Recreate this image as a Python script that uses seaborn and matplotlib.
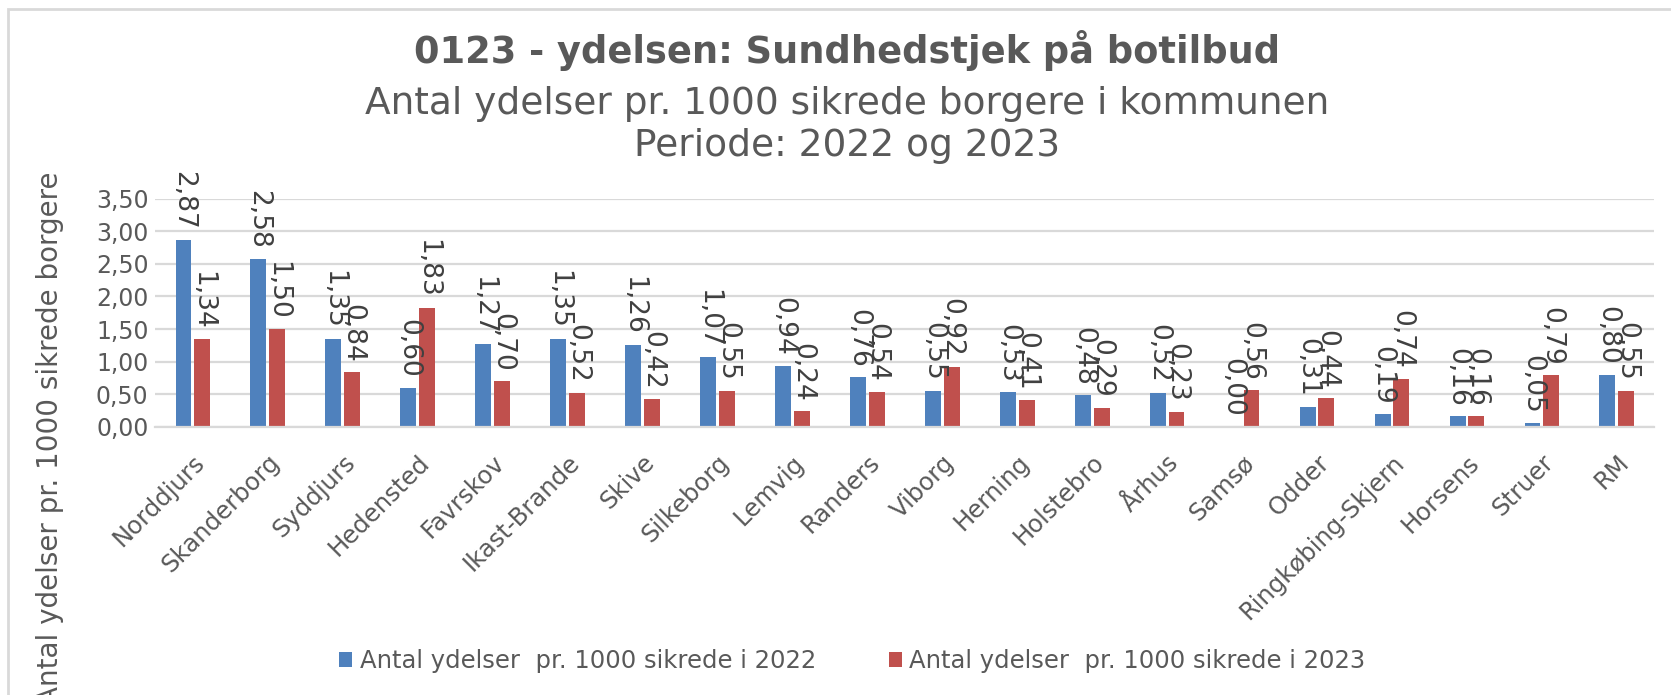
import matplotlib
matplotlib.use("Agg")
import matplotlib.pyplot as plt
import seaborn as sns
import pandas as pd
from matplotlib.patches import Rectangle

kommuner = ["Norddjurs", "Skanderborg", "Syddjurs", "Hedensted", "Favrskov", "Ikast-Brande",
            "Skive", "Silkeborg", "Lemvig", "Randers", "Viborg", "Herning", "Holstebro",
            "Århus", "Samsø", "Odder", "Ringkøbing-Skjern", "Horsens", "Struer", "RM"]
v2022 = [2.87, 2.58, 1.35, 0.60, 1.27, 1.35, 1.26, 1.07, 0.94, 0.76, 0.55, 0.53, 0.48,
         0.52, 0.00, 0.31, 0.19, 0.16, 0.05, 0.80]
v2023 = [1.34, 1.50, 0.84, 1.83, 0.70, 0.52, 0.42, 0.55, 0.24, 0.54, 0.92, 0.41, 0.29,
         0.23, 0.56, 0.44, 0.74, 0.16, 0.79, 0.55]
series = ["Antal ydelser  pr. 1000 sikrede i 2022", "Antal ydelser  pr. 1000 sikrede i 2023"]
yticks = [0.0, 0.5, 1.0, 1.5, 2.0, 2.5, 3.0, 3.5]

title1 = "0123 - ydelsen: Sundhedstjek på botilbud"
title2 = "Antal ydelser pr. 1000 sikrede borgere i kommunen"
title3 = "Periode: 2022 og 2023"
ylabel = "Antal ydelser pr. 1000 sikrede borgere"

df = pd.DataFrame({
    "kommune": kommuner * 2,
    "value": v2022 + v2023,
    "serie": [series[0]] * len(kommuner) + [series[1]] * len(kommuner),
})

sns.set_theme(style="white")
plt.rcParams["font.family"] = ["DejaVu Sans"]
TXT = "#595959"

fig = plt.figure(figsize=(16.71, 6.95), dpi=100)
ax = fig.add_axes([0.093, 0.386, 0.897, 0.328])

sns.barplot(data=df, x="kommune", y="value", hue="serie", order=kommuner,
            hue_order=series, palette=["#4F81BD", "#C0504D"], width=0.5, gap=0.15,
            ax=ax, legend=True, saturation=1, edgecolor="none")

ax.set_ylim(0, 3.5)
ax.set_yticks(yticks)
ax.set_yticklabels([f"{t:.2f}".replace(".", ",") for t in yticks], fontsize=17, color=TXT)
ax.set_xlim(-0.5, len(kommuner) - 0.5)
ax.grid(axis="y", color="#D9D9D9", linewidth=1.6)
ax.set_axisbelow(True)
for s in ["top", "right", "left"]:
    ax.spines[s].set_visible(False)
ax.spines["bottom"].set_color("#D9D9D9")
ax.spines["bottom"].set_linewidth(1.6)
ax.tick_params(axis="y", length=0, pad=5)
ax.tick_params(axis="x", length=0, pad=17)
ax.set_xlabel("")
ax.set_ylabel("")
plt.setp(ax.get_xticklabels(), rotation=45, ha="right", rotation_mode="anchor",
         fontsize=17.5, color=TXT)

for cont, vals in zip(ax.containers, [v2022, v2023]):
    ax.bar_label(cont, labels=[f"{v:.2f}".replace(".", ",") for v in vals],
                 rotation=-90, padding=7, fontsize=19, color="#404040", clip_on=False)

fig.text(0.03, 0.37, ylabel, rotation=90, ha="center", va="center", fontsize=20, color=TXT)

fig.text(0.507, 0.928, title1, ha="center", va="center", fontsize=26.5, fontweight="bold", color=TXT)
fig.text(0.507, 0.850, title2, ha="center", va="center", fontsize=27, color=TXT)
fig.text(0.507, 0.790, title3, ha="center", va="center", fontsize=27, color=TXT)

leg = ax.get_legend()
handles = leg.legend_handles
labels = [t.get_text() for t in leg.get_texts()]
leg.remove()
fig.legend(handles, labels, loc="center", bbox_to_anchor=(0.51, 0.049), ncol=2,
           frameon=False, fontsize=17.5, handlelength=0.55, handleheight=0.55,
           handletextpad=0.3, columnspacing=3.0, labelcolor=TXT)

fig.patches.append(Rectangle((0.0045, -0.05), 1.2, 1.0365, transform=fig.transFigure,
                             fill=False, edgecolor="#D9D9D9", linewidth=2))

fig.savefig("out.png", dpi=100, facecolor="white")
